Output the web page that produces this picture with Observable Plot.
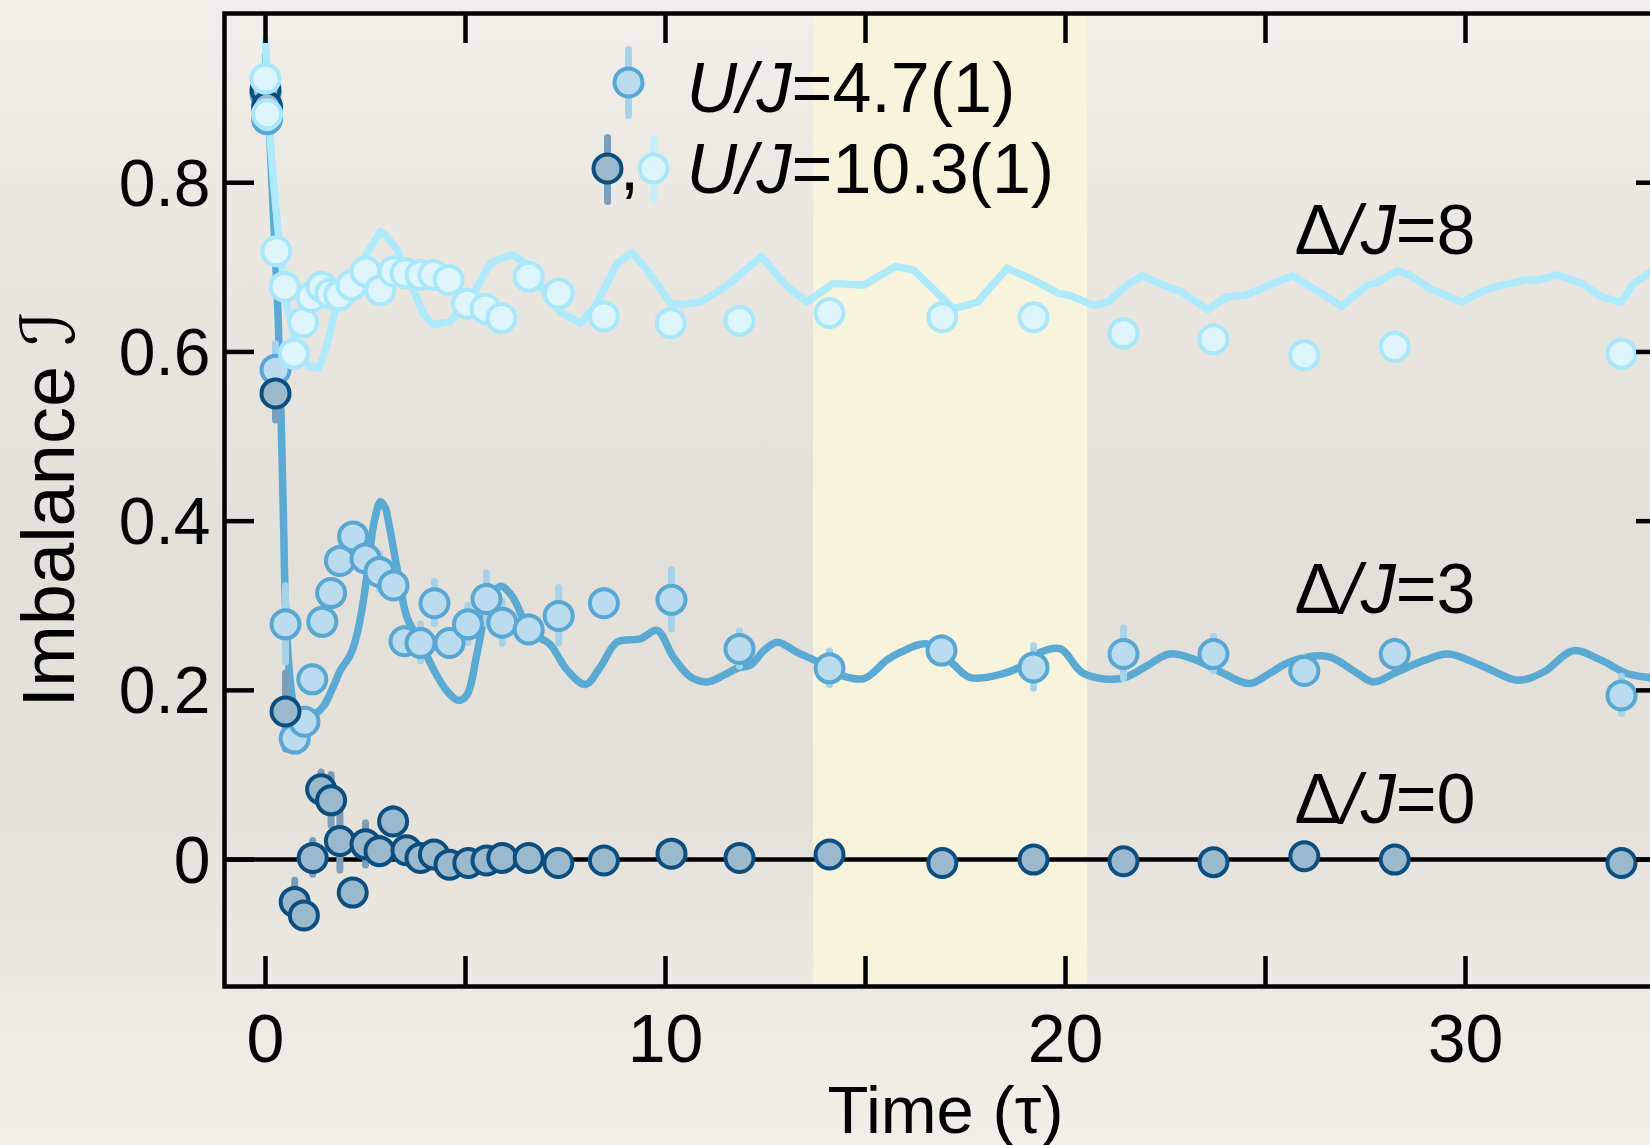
<!DOCTYPE html>
<html>
<head>
<meta charset="utf-8">
<script src="https://cdn.jsdelivr.net/npm/d3@7"></script>
<script src="https://cdn.jsdelivr.net/npm/@observablehq/plot@0.6"></script>
<style>
  html, body { margin: 0; padding: 0; width: 1650px; height: 1145px; overflow: hidden; }
  body { background: linear-gradient(to bottom, #f2efea 0%, #ebe8e2 18%, #e3e0da 48%, #e5e2dc 72%, #efece6 92%, #f1eee8 100%); }
  #chart svg { display: block; }
</style>
</head>
<body>
<div id="chart"></div>
<script>
// ---- data ----
const highlightBand = [13.7, 20.55];
const xTickValues = [0, 5, 10, 15, 20, 25, 30, 35];
const xLabelValues = [0, 10, 20, 30];
const yTickValues = [0, 0.2, 0.4, 0.6, 0.8];
const seriesLabels = ["U/J=4.7(1)", "U/J=10.3(1)"];
const disorderLabels = ["Δ/J=8", "Δ/J=3", "Δ/J=0"];
const xTitle = "Time (τ)";
const yTitle = "Imbalance ℐ";

// Δ/J=3, U/J=4.7 : measured points
const t3 = [0, 0.04, 0.25, 0.5, 0.73, 0.975, 1.17, 1.42, 1.64, 1.86, 2.19, 2.5, 2.85, 3.2, 3.475, 3.875, 4.225, 4.6, 5.06, 5.525, 5.92, 6.58, 7.33, 8.46, 10.15, 11.85, 14.1, 16.9, 19.2, 21.45, 23.7, 25.97, 28.23, 33.9];
const I3 = [0.905, 0.875, 0.579, 0.278, 0.143, 0.163, 0.213, 0.281, 0.315, 0.353, 0.382, 0.356, 0.340, 0.324, 0.258, 0.256, 0.303, 0.256, 0.278, 0.308, 0.280, 0.272, 0.288, 0.303, 0.307, 0.249, 0.226, 0.247, 0.227, 0.243, 0.243, 0.223, 0.243, 0.194];
const e3 = [0.01, 0.01, 0.03, 0.045, 0.01, 0.015, 0.012, 0.015, 0.012, 0.015, 0.012, 0.015, 0.021, 0.015, 0.015, 0.022, 0.025, 0.012, 0.022, 0.03, 0.025, 0.015, 0.033, 0.015, 0.035, 0.021, 0.02, 0.015, 0.025, 0.03, 0.02, 0.015, 0.015, 0.022];

// Δ/J=0, U/J=10.3 : measured points
const t0 = [0, 0.04, 0.25, 0.5, 0.73, 0.96, 1.18, 1.39, 1.64, 1.86, 2.18, 2.5, 2.85, 3.19, 3.525, 3.875, 4.21, 4.6, 5.07, 5.525, 5.92, 6.58, 7.32, 8.46, 10.15, 11.85, 14.1, 16.92, 19.2, 21.45, 23.7, 25.97, 28.23, 33.9];
const I0 = [0.91, 0.89, 0.551, 0.175, -0.050, -0.066, 0.002, 0.083, 0.070, 0.022, -0.039, 0.018, 0.010, 0.045, 0.011, 0.002, 0.006, -0.006, -0.004, -0.001, 0.002, 0.002, -0.004, -0.001, 0.007, 0.002, 0.006, -0.004, 0.0, -0.002, -0.003, 0.004, 0.0, -0.004];
const e0 = [0.01, 0.01, 0.032, 0.045, 0.025, 0.015, 0.02, 0.02, 0.03, 0.035, 0.012, 0.025, 0.015, 0.015, 0.01, 0.01, 0.01, 0.01, 0.01, 0.01, 0.01, 0.01, 0.01, 0.01, 0.01, 0.01, 0.01, 0.01, 0.01, 0.01, 0.01, 0.01, 0.01, 0.01];

// Δ/J=8, U/J=10.3 : measured points
const t8 = [0, 0.04, 0.27, 0.48, 0.71, 0.94, 1.15, 1.4, 1.62, 1.84, 2.15, 2.5, 2.87, 3.2, 3.5, 3.875, 4.2, 4.58, 5.04, 5.5, 5.9, 6.58, 7.33, 8.46, 10.13, 11.85, 14.1, 16.92, 19.2, 21.45, 23.7, 25.97, 28.23, 33.9];
const I8 = [0.923, 0.881, 0.719, 0.677, 0.598, 0.635, 0.665, 0.677, 0.669, 0.667, 0.679, 0.695, 0.673, 0.695, 0.693, 0.691, 0.691, 0.685, 0.657, 0.651, 0.640, 0.689, 0.669, 0.642, 0.634, 0.637, 0.646, 0.641, 0.641, 0.622, 0.615, 0.596, 0.606, 0.598];
const e8 = [0.012, 0.012, 0.012, 0.015, 0.012, 0.012, 0.01, 0.01, 0.01, 0.01, 0.01, 0.01, 0.01, 0.01, 0.01, 0.01, 0.01, 0.01, 0.01, 0.01, 0.01, 0.01, 0.01, 0.01, 0.01, 0.01, 0.01, 0.01, 0.01, 0.01, 0.01, 0.01, 0.01, 0.01];

// theory curves
const th3t = [0, 0.1, 0.2, 0.3, 0.375, 0.45, 0.5, 0.6, 0.7, 0.85, 1.0, 1.2, 1.46, 1.7, 1.875, 2.1, 2.21, 2.35, 2.46, 2.6, 2.7, 2.875, 3.0, 3.08, 3.29, 3.54, 3.875, 4.21, 4.54, 4.83, 5.04, 5.29, 5.54, 5.875, 6.17, 6.625, 7.1, 7.54, 8.0, 8.375, 8.79, 9.375, 9.79, 10.2, 10.625, 11.04, 11.46, 11.79, 12.125, 12.46, 12.79, 13.29, 13.79, 14.375, 14.96, 15.54, 15.875, 16.54, 17.17, 17.625, 18.46, 18.875, 19.375, 19.875, 20.45, 21.4, 22.0, 22.6, 23.25, 23.87, 24.6, 25.1, 25.63, 26.56, 27.3, 27.7, 28.3, 29.0, 29.57, 30.46, 31.3, 31.96, 32.7, 33.375, 34.04, 34.625, 35.0];
const th3I = [0.95, 0.86, 0.76, 0.66, 0.55, 0.40, 0.30, 0.22, 0.185, 0.17, 0.165, 0.17, 0.182, 0.205, 0.224, 0.24, 0.253, 0.28, 0.31, 0.36, 0.395, 0.423, 0.415, 0.398, 0.344, 0.286, 0.257, 0.224, 0.199, 0.188, 0.195, 0.244, 0.298, 0.323, 0.311, 0.269, 0.255, 0.224, 0.207, 0.228, 0.257, 0.261, 0.271, 0.239, 0.216, 0.21, 0.218, 0.226, 0.23, 0.247, 0.257, 0.245, 0.234, 0.218, 0.214, 0.236, 0.245, 0.255, 0.232, 0.215, 0.22, 0.228, 0.245, 0.249, 0.22, 0.214, 0.228, 0.243, 0.236, 0.222, 0.208, 0.22, 0.234, 0.24, 0.22, 0.21, 0.222, 0.236, 0.243, 0.228, 0.212, 0.222, 0.247, 0.236, 0.22, 0.215, 0.213];
const th8t = [0, 0.08, 0.21, 0.33, 0.5, 0.625, 0.83, 1.08, 1.33, 1.5, 1.75, 1.96, 2.2, 2.54, 2.875, 3.0, 3.29, 3.625, 3.96, 4.2, 4.625, 4.9, 5.2, 5.625, 6.17, 6.625, 7.04, 7.4, 7.875, 8.25, 8.79, 9.17, 9.54, 10.125, 10.46, 10.875, 11.5, 12.4, 13.04, 13.54, 14.2, 14.96, 15.75, 16.2, 17.2, 17.8, 18.54, 19.2, 19.83, 20.1, 20.7, 21.07, 21.38, 21.9, 22.6, 22.9, 23.56, 24.02, 24.49, 25.68, 26.4, 26.9, 27.55, 27.75, 28.3, 28.6, 29.1, 29.9, 30.5, 30.9, 31.5, 31.8, 32.3, 32.9, 33.4, 33.9, 34.2, 34.6, 35.0];
const th8I = [0.97, 0.875, 0.796, 0.736, 0.662, 0.638, 0.598, 0.583, 0.581, 0.602, 0.65, 0.673, 0.69, 0.717, 0.742, 0.738, 0.721, 0.681, 0.644, 0.632, 0.636, 0.652, 0.669, 0.705, 0.715, 0.701, 0.665, 0.646, 0.634, 0.654, 0.705, 0.717, 0.697, 0.657, 0.656, 0.659, 0.677, 0.713, 0.677, 0.659, 0.681, 0.679, 0.701, 0.697, 0.651, 0.659, 0.699, 0.685, 0.669, 0.667, 0.655, 0.659, 0.673, 0.69, 0.676, 0.671, 0.65, 0.665, 0.667, 0.69, 0.669, 0.654, 0.679, 0.681, 0.696, 0.691, 0.675, 0.659, 0.673, 0.679, 0.685, 0.685, 0.691, 0.681, 0.665, 0.659, 0.681, 0.693, 0.70];

// ---- tables built from the arrays ----
const pts = (T, V, E) => T.map((t, i) => ({t, I: V[i], e: E[i]}));
const curve = (T, V) => T.map((t, i) => ({t, I: V[i]}));
const p3 = pts(t3, I3, e3), p0 = pts(t0, I0, e0), p8 = pts(t8, I8, e8);
const c3 = curve(th3t, th3I), c8 = curve(th8t, th8I);

// ---- styles ----
const C = {
  d3: {fill: "#bbdcee", stroke: "#58a8d3", bar: "#a6d2ea", line: "#5aaad4"},
  d0: {fill: "#9bb9cd", stroke: "#0c4e80", bar: "#7b9fba"},
  d8: {fill: "#def5fd", stroke: "#a9e7fb", bar: "#c6effc", line: "#aeeafc"}
};
const W = 1666, H = 1145, mL = 224, mT = 13, mB = 159, mR = 0;
const frameW = W - mL - mR, frameH = H - mT - mB, tick = 30, axisW = 4.5;
const FS = 70;
const vbar = h => ({draw(ctx) { ctx.moveTo(0, -h); ctx.lineTo(0, h); }});
const label = (txt, dx, dy, extra = {}) =>
  Plot.text([txt], {text: d => d, frameAnchor: "top-left", textAnchor: "start", lineAnchor: "middle", dx, dy, fontSize: FS, fill: "black", ...extra});

const chart = Plot.plot({
  width: W, height: H,
  marginLeft: mL, marginRight: mR, marginTop: mT, marginBottom: mB,
  x: {domain: [-1.025, 35.025], axis: null},
  y: {domain: [-0.15, 1.0], axis: null},
  style: {background: "transparent", maxWidth: "none", overflow: "visible",
          fontFamily: "'Liberation Sans', Arial, Helvetica, sans-serif", color: "black"},
  marks: [
    Plot.rect([highlightBand], {x1: d => d[0], x2: d => d[1], fill: "#f8f3dc"}),
    Plot.ruleY([0], {stroke: "black", strokeWidth: 4.5}),
    Plot.line(c3, {x: "t", y: "I", stroke: C.d3.line, strokeWidth: 7.5, curve: "catmull-rom", strokeLinejoin: "round", strokeLinecap: "round"}),
    Plot.line(c8, {x: "t", y: "I", stroke: C.d8.line, strokeWidth: 7.5, curve: "linear", strokeLinejoin: "round", strokeLinecap: "round"}),
    Plot.ruleX(p3, {x: "t", y1: d => d.I - d.e, y2: d => d.I + d.e, stroke: C.d3.bar, strokeWidth: 7, strokeLinecap: "round"}),
    Plot.ruleX(p0, {x: "t", y1: d => d.I - d.e, y2: d => d.I + d.e, stroke: C.d0.bar, strokeWidth: 7, strokeLinecap: "round"}),
    Plot.ruleX(p8, {x: "t", y1: d => d.I - d.e, y2: d => d.I + d.e, stroke: C.d8.bar, strokeWidth: 7, strokeLinecap: "round"}),
    Plot.dot(p3, {x: "t", y: "I", r: 14, fill: C.d3.fill, stroke: C.d3.stroke, strokeWidth: 4}),
    Plot.dot(p0, {x: "t", y: "I", r: 14, fill: C.d0.fill, stroke: C.d0.stroke, strokeWidth: 4}),
    Plot.dot(p8, {x: "t", y: "I", r: 14, fill: C.d8.fill, stroke: C.d8.stroke, strokeWidth: 4}),

    // inward ticks on all four sides
    Plot.ruleX(xTickValues, {x: d => d, insetTop: frameH - tick, stroke: "black", strokeWidth: axisW}),
    Plot.ruleX(xTickValues, {x: d => d, insetBottom: frameH - tick, stroke: "black", strokeWidth: axisW}),
    Plot.ruleY(yTickValues, {y: d => d, insetRight: frameW - tick, stroke: "black", strokeWidth: axisW}),
    Plot.ruleY(yTickValues, {y: d => d, insetLeft: frameW - tick, stroke: "black", strokeWidth: axisW}),
    Plot.frame({stroke: "black", strokeWidth: axisW}),

    // tick labels
    Plot.text(xLabelValues, {x: d => d, text: d => String(d), frameAnchor: "bottom", lineAnchor: "top", dy: 27, fontSize: 68, fill: "black"}),
    Plot.text(yTickValues, {y: d => d, text: d => d === 0 ? "0" : d.toFixed(1), frameAnchor: "left", textAnchor: "end", lineAnchor: "middle", dx: -14, dy: 2, fontSize: 66, fill: "black"}),

    // axis titles
    Plot.text([xTitle], {text: d => d, frameAnchor: "bottom", textAnchor: "middle", lineAnchor: "middle", dy: 125, fontSize: 67, fill: "black"}),
    Plot.text([yTitle], {text: d => d, frameAnchor: "left", textAnchor: "middle", lineAnchor: "middle", dx: -174, dy: 9, rotate: -90, fontSize: 74, fill: "black"}),

    // legend
    Plot.dot([seriesLabels[0]], {frameAnchor: "top-left", dx: 404, dy: 69, symbol: vbar(33), r: 1, fill: "none", stroke: C.d3.bar, strokeWidth: 7, strokeLinecap: "round"}),
    Plot.dot([seriesLabels[0]], {frameAnchor: "top-left", dx: 404, dy: 69, r: 14, fill: C.d3.fill, stroke: C.d3.stroke, strokeWidth: 4}),
    Plot.dot([seriesLabels[1]], {frameAnchor: "top-left", dx: 383, dy: 156, symbol: vbar(32), r: 1, fill: "none", stroke: C.d0.bar, strokeWidth: 7, strokeLinecap: "round"}),
    Plot.dot([seriesLabels[1]], {frameAnchor: "top-left", dx: 383, dy: 155, r: 14, fill: C.d0.fill, stroke: C.d0.stroke, strokeWidth: 4}),
    Plot.dot([seriesLabels[1]], {frameAnchor: "top-left", dx: 429, dy: 156, symbol: vbar(31), r: 1, fill: "none", stroke: C.d8.bar, strokeWidth: 7, strokeLinecap: "round"}),
    Plot.dot([seriesLabels[1]], {frameAnchor: "top-left", dx: 429, dy: 155, r: 14, fill: C.d8.fill, stroke: C.d8.stroke, strokeWidth: 4}),
    label(",", 405, 154, {textAnchor: "middle"}),
    label(seriesLabels[0], 462, 76),
    label(seriesLabels[1], 462, 157),

    // disorder labels
    label(disorderLabels[0], 1070, 218),
    label(disorderLabels[1], 1070, 577),
    label(disorderLabels[2], 1070, 787)
  ]
});

// italic "U/J", "/J" and script ℐ via tspans
const NS = "http://www.w3.org/2000/svg";
chart.querySelectorAll("text").forEach(el => {
  const s = el.textContent;
  let parts = null;
  let m = s.match(/^(Δ?)(U?\/J)(=.*)$/);
  if (m) {
    parts = [];
    if (m[1]) parts.push([m[1], null]);
    parts.push([m[2], "italic"]);
    parts.push([m[3], null]);
  } else if (s === yTitle) {
    parts = [["Imbalance ", null], ["ℐ", "script"]];
  }
  if (!parts) return;
  el.textContent = "";
  for (const [txt, kind] of parts) {
    const ts = document.createElementNS(NS, "tspan");
    ts.textContent = txt;
    if (kind === "italic") ts.setAttribute("font-style", "italic");
    if (kind === "script") { ts.setAttribute("font-family", "'DejaVu Serif', 'DejaVu Sans', serif"); ts.setAttribute("font-style", "italic"); }
    el.appendChild(ts);
  }
});

document.getElementById("chart").appendChild(chart);
</script>
</body>
</html>
